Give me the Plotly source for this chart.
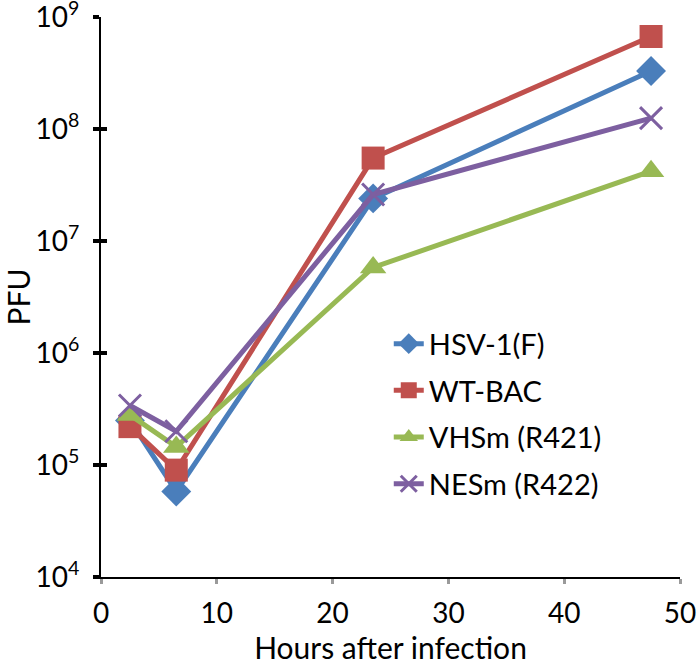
import plotly.graph_objects as go

hours = [2.5, 6.5, 23.5, 47.5]
series_names = ["HSV-1(F)", "WT-BAC", "VHSm (R421)", "NESm (R422)"]
hsv1f = [2.5e5, 5.8e4, 2.4e7, 3.3e8]
wtbac = [2.2e5, 9.0e4, 5.5e7, 6.7e8]
vhsm = [2.8e5, 1.45e5, 5.8e6, 4.2e7]
nesm = [3.4e5, 2.0e5, 2.6e7, 1.25e8]
ytick_vals = [1e4, 1e5, 1e6, 1e7, 1e8, 1e9]
ytick_text = ["10<sup>4</sup>", "10<sup>5</sup>", "10<sup>6</sup>", "10<sup>7</sup>", "10<sup>8</sup>", "10<sup>9</sup>"]
xtick_vals = [0, 10, 20, 30, 40, 50]

colors = ["#4A7EBB", "#C0504D", "#98B954", "#7D5FA0"]
symbols = ["diamond", "square", "triangle-up", "x-thin"]
sizes = [23, 23, 23, 22]
values = [hsv1f, wtbac, vhsm, nesm]

fig = go.Figure()
for i, (name, vals) in enumerate(zip(series_names, values)):
    marker = dict(symbol=symbols[i], size=sizes[i], color=colors[i])
    if symbols[i] == "x-thin":
        marker["line"] = dict(color=colors[i], width=3)
    fig.add_trace(go.Scatter(
        x=hours, y=vals, name=name, mode="lines+markers",
        line=dict(color=colors[i], width=5),
        marker=marker, legendgroup=str(i),
    ))

# invisible trace on the overlay axis so its inner tick marks are drawn
fig.add_trace(go.Scatter(x=[hours[0]], y=[hsv1f[0]], yaxis="y2", mode="markers",
                         marker=dict(opacity=0), showlegend=False, hoverinfo="skip"))

yrange = [3.9999, 9.0001]
font_family = "Lato, 'Open Sans', sans-serif"
fig.update_layout(
    width=700, height=665,
    margin=dict(l=101, r=20, t=17, b=88),
    paper_bgcolor="white", plot_bgcolor="white",
    font=dict(family=font_family, size=28, color="black"),
    showlegend=True,
    legend=dict(x=0.497, y=0.462, xanchor="left", yanchor="top",
                font=dict(size=29, color="black"), tracegroupgap=6,
                bgcolor="rgba(0,0,0,0)"),
    xaxis=dict(range=[0, 50], tickvals=xtick_vals, showline=True, linecolor="black", linewidth=2,
               ticks="outside", ticklen=5, tickwidth=3, tickcolor="#9a9a9a",
               showgrid=False, zeroline=False, automargin=False,
               ticklabelstandoff=5, ticklabeloverflow="allow",
               title=dict(text="Hours after infection", font=dict(size=30), standoff=14),
               tickfont=dict(size=28)),
    yaxis=dict(type="log", range=yrange, tickvals=ytick_vals, ticktext=ytick_text,
               showline=True, linecolor="black", linewidth=2,
               ticks="outside", ticklen=6, tickwidth=3.5, tickcolor="black",
               showgrid=False, zeroline=False, automargin=False,
               ticklabelstandoff=8, ticklabeloverflow="allow",
               title=dict(text="PFU", font=dict(size=30), standoff=18),
               tickfont=dict(size=28)),
    yaxis2=dict(type="log", range=yrange, overlaying="y", side="left", tickvals=ytick_vals,
                showticklabels=False, ticks="inside", ticklen=6, tickwidth=3.5, tickcolor="black",
                showgrid=False, zeroline=False, showline=False, automargin=False),
)
fig.write_html("out.html", config={"displayModeBar": False},
               post_script="document.body.style.margin='0';document.body.style.padding='0';")
